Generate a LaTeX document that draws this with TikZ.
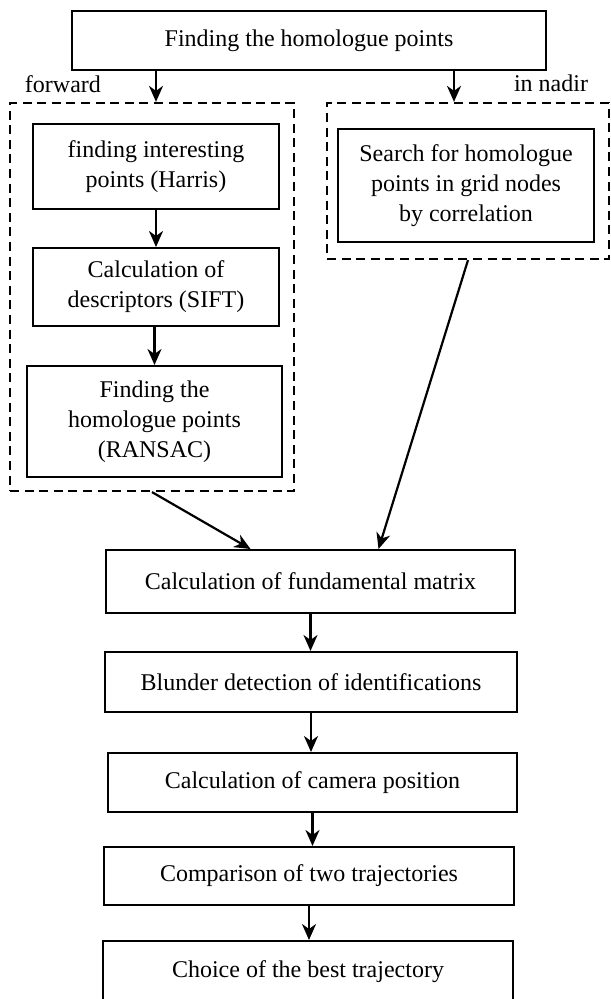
\documentclass[tikz,border=0pt]{standalone}
\usepackage{fontspec}
\setmainfont{Liberation Serif}
\usepackage{tikz}
\usetikzlibrary{arrows.meta}
\tikzset{arrow/.style = {-{Stealth[length = 8pt, width = 7pt, inset = 2.5pt]}, line width = 1.1pt}}
\tikzset{box/.style = {draw, line width = 1pt, inner sep = 0pt, align = center, font = \fontsize{12}{15}\selectfont}}
\tikzset{group/.style = {draw, line width = 1.1pt, dash pattern = on 4.5pt off 2.8pt, inner sep = 0pt}}
\tikzset{label/.style = {inner sep = 0pt, outer sep = 0pt, font = \fontsize{12}{15}\selectfont}}

\begin{document}
\begin{tikzpicture}[x=0.5pt,y=-0.5pt]
\path[use as bounding box] (0,0) rectangle (610,999);

% the two dashed groups
\node[group, minimum width = 142pt, minimum height = 194pt] (forwardGroup) at (152,297) {};
\node[group, minimum width = 141pt, minimum height = 78pt] (nadirGroup) at (468,181) {};

\node[box, minimum width = 237pt, minimum height = 29.5pt] (homologue) at (309,40.5) {Finding the homologue points};

\node[label, anchor = base west] (forwardLabel) at (25,93) {forward};
\node[label, anchor = base east] (nadirLabel) at (588,92) {in nadir};

\node[box, minimum width = 123pt, minimum height = 42.5pt] (harris) at (156,166.5) {finding interesting\\points (Harris)};
\node[box, minimum width = 123pt, minimum height = 39pt] (sift) at (156,287) {Calculation of\\descriptors (SIFT)};
\node[box, minimum width = 127.5pt, minimum height = 55.5pt] (ransac) at (154.5,421.5) {Finding the\\homologue points\\(RANSAC)};
\node[box, minimum width = 128pt, minimum height = 56.5pt] (grid) at (466,185.5) {Search for homologue\\points in grid nodes\\by correlation};

\node[box, minimum width = 204.5pt, minimum height = 31.5pt] (fundamental) at (310.5,581.5) {Calculation of fundamental matrix};
\node[box, minimum width = 206pt, minimum height = 30pt] (blunder) at (311,682) {Blunder detection of identifications};
\node[box, minimum width = 204.5pt, minimum height = 29.5pt] (camera) at (312.5,782.5) {Calculation of camera position};
\node[box, minimum width = 205pt, minimum height = 29pt] (comparison) at (309,876) {Comparison of two trajectories};
\node[box, minimum width = 205pt, minimum height = 31pt] (choice) at (308,972) {Choice of the best trajectory};

\coordinate (nadirX) at (454,0);

\draw[arrow] (homologue.south -| harris.center) -- (forwardGroup.north -| harris.center);
\draw[arrow] (homologue.south -| nadirX) -- (nadirGroup.north -| nadirX);
\draw[arrow] (harris) -- (sift);
\draw[arrow] (sift.south -| ransac.center) -- (ransac);
\draw[arrow] (forwardGroup.south) -- ([xshift = -30pt]fundamental.north);
\draw[arrow] (nadirGroup.south) -- ([xshift = 34pt]fundamental.north);
\draw[arrow] (fundamental.south) -- (fundamental.south |- blunder.north);
\draw[arrow] (blunder.south) -- (blunder.south |- camera.north);
\draw[arrow] (camera.south) -- (camera.south |- comparison.north);
\draw[arrow] (comparison.south) -- (comparison.south |- choice.north);
\end{tikzpicture}
\end{document}
